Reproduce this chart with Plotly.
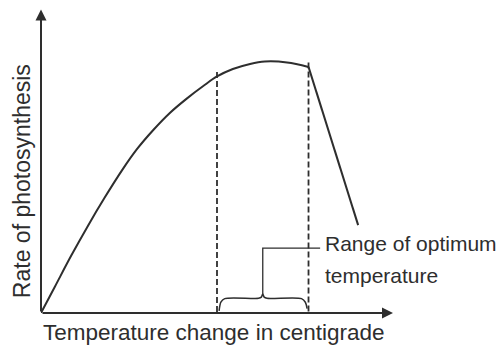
import plotly.graph_objects as go

# Rising part of the photosynthesis curve (temperature units, rate units)
temp_rise = [0, 3.9, 8.6, 13.4, 18.1, 23.0, 27.2, 31.9, 36.6, 41.4, 46.1, 50, 54.5, 59.4, 63.6, 69.9, 76]
rate_rise = [0, 8.7, 19.2, 29.3, 38.6, 47.7, 54.7, 61.2, 66.9, 71.7, 75.9, 79.1, 81.6, 83.3, 84.1, 83.8, 82.3]

# Sharp decline above the optimum
temp_fall = [76, 90.1]
rate_fall = [82.3, 29.4]

# Optimum temperature range
opt_low, opt_high = 50, 76
opt_rate_low, opt_rate_high = 79.1, 82.3

x_max, y_max = 100, 100

ink = "#2e2e2e"
font_family = "Liberation Sans, Arial, Helvetica, sans-serif"

fig = go.Figure()

fig.add_trace(go.Scatter(x=temp_rise, y=rate_rise, mode="lines",
                         line=dict(color=ink, width=2, shape="spline", smoothing=1.0),
                         cliponaxis=False, hoverinfo="skip"))
fig.add_trace(go.Scatter(x=temp_fall, y=rate_fall, mode="lines",
                         line=dict(color=ink, width=2),
                         cliponaxis=False, hoverinfo="skip"))

# Dashed drop lines marking the optimum range
for xv, yv in [(opt_low, opt_rate_low), (opt_high, opt_rate_high)]:
    fig.add_trace(go.Scatter(x=[xv, xv], y=[yv + 1.5, 0], mode="lines",
                             line=dict(color=ink, width=1.8, dash="6px,3px"),
                             cliponaxis=False, hoverinfo="skip"))

# Curly brace spanning the optimum range
mid = (opt_low + opt_high) / 2
b0, b1 = opt_low + 0.6, opt_high - 0.4
brace_x = [b0, b0 + 0.5, b0 + 1.6, mid - 1.2, mid - 0.4, mid, mid + 0.4, mid + 1.2, b1 - 1.6, b1 - 0.5, b1]
brace_y = [0.7, 3.6, 4.8, 4.9, 5.3, 6.4, 5.3, 4.9, 4.8, 3.6, 1.5]
fig.add_trace(go.Scatter(x=brace_x, y=brace_y, mode="lines",
                         line=dict(color=ink, width=1.5, shape="spline", smoothing=0.8),
                         cliponaxis=False, hoverinfo="skip"))

# Leader from the brace to the label
leader_y = 21.7
fig.add_trace(go.Scatter(x=[mid, mid, 79.3], y=[6.4, leader_y, leader_y], mode="lines",
                         line=dict(color=ink, width=1.3),
                         cliponaxis=False, hoverinfo="skip"))

annotations = [
    # axes with arrowheads
    dict(x=0, y=y_max + 1.5, ax=0, ay=0, xref="x", yref="y", axref="x", ayref="y",
         showarrow=True, arrowhead=2, arrowsize=1.1, arrowwidth=2, arrowcolor=ink, text=""),
    dict(x=x_max, y=0, ax=0, ay=0, xref="x", yref="y", axref="x", ayref="y",
         showarrow=True, arrowhead=2, arrowsize=1.1, arrowwidth=2, arrowcolor=ink, text=""),
    # axis titles
    dict(text="Rate of photosynthesis", x=-0.054, y=0.441, xref="paper", yref="paper",
         textangle=-90, showarrow=False, xanchor="center", yanchor="middle",
         font=dict(family=font_family, size=23, color=ink)),
    dict(text="Temperature change in centigrade", x=0.0, y=-0.064, xref="paper", yref="paper",
         showarrow=False, xanchor="left", yanchor="middle",
         font=dict(family=font_family, size=22.5, color=ink)),
    # range label
    dict(text="Range of optimum", x=80, y=23.2, xref="x", yref="y",
         showarrow=False, xanchor="left", yanchor="middle",
         font=dict(family=font_family, size=21, color=ink)),
    dict(text="temperature", x=80, y=12.6, xref="x", yref="y",
         showarrow=False, xanchor="left", yanchor="middle",
         font=dict(family=font_family, size=21, color=ink)),
]

fig.update_layout(
    width=500, height=345,
    margin=dict(l=41, r=107, t=14, b=32),
    paper_bgcolor="white", plot_bgcolor="white",
    showlegend=False,
    xaxis=dict(range=[0, x_max], visible=False, fixedrange=True),
    yaxis=dict(range=[0, y_max], visible=False, fixedrange=True),
    annotations=annotations,
)

fig.write_html("out.html")
